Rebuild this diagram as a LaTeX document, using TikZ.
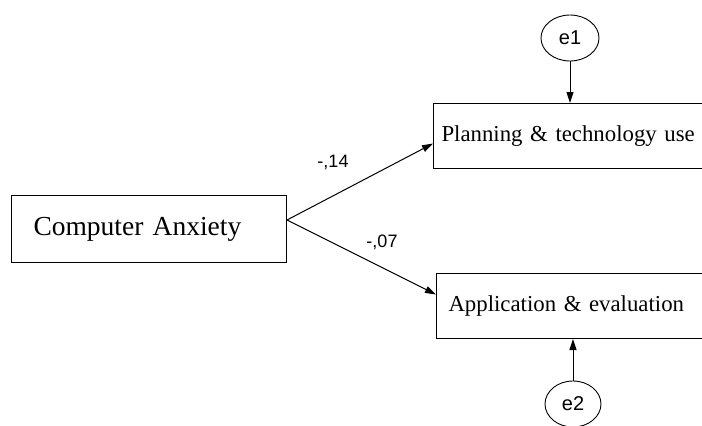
\documentclass[tikz,border=0pt]{standalone}
\usepackage{fontspec}
\setmainfont{Liberation Serif}
\newfontfamily\amossans{Liberation Sans}
\usetikzlibrary{arrows.meta,shapes.geometric,calc}

\begin{document}
\begin{tikzpicture}[x=1pt,y=-1pt]
%% Styles
\tikzset{varbox/.style={draw, line width=1pt, anchor=north west, align=left, inner ysep=0pt, font=\fontsize{22.8}{26}\selectfont},
errvar/.style={draw, ellipse, line width=0.9pt, inner sep=0pt, font=\amossans\fontsize{20}{22}\selectfont},
coef/.style={font=\amossans\fontsize{18}{20}\selectfont},
path/.style={line width=1pt, -{Triangle[length=11pt,width=7pt]}}}
\useasboundingbox (0,0) rectangle (702,426);
\clip (0,0) rectangle (702,426);

%% Observed variables
\node[varbox, inner xsep=22pt, text width=231pt, minimum height=67pt, font=\fontsize{27.5}{30}\selectfont] (anx) at (11,195) {Computer Anxiety};
\node[varbox, inner xsep=8pt, text width=280pt, minimum height=65pt] (plan) at (433,103) {Planning \& technology use};
\node[varbox, inner xsep=12pt, text width=280pt, minimum height=65pt] (appl) at (436,273) {Application \& evaluation};

%% Error terms
\node[errvar, minimum width=58pt, minimum height=46pt] (e1) at (570,38) {e1};
\node[errvar, minimum width=56pt, minimum height=46pt] (e2) at (573,404) {e2};

%% Paths
\coordinate (src) at ($(anx.east)+(0,-9)$);
\path[draw,path] (src) -- ($(plan.west)+(0,7.5)$);
\path[draw,path] (src) -- ($(appl.west)+(0,-11.5)$);
\path[draw,path] (e1.south) -- (e1.south |- plan.north);
\path[draw,path] (e2.north) -- (e2.north |- appl.south);

%% Coefficients
\node[coef] (c14) at (333,162) {-,14};
\node[coef] (c07) at (382,242) {-,07};

\end{tikzpicture}
\end{document}
